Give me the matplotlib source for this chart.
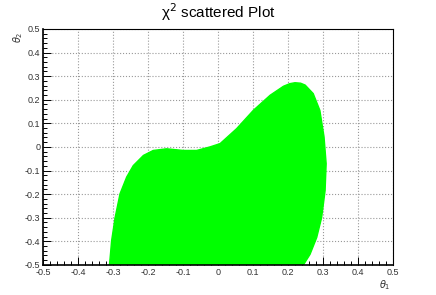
import matplotlib
matplotlib.use("Agg")
import matplotlib.pyplot as plt
from matplotlib.ticker import MultipleLocator

plt.rcParams['font.family'] = ['Liberation Sans', 'DejaVu Sans']

# boundary of the scattered region (theta1, theta2)
theta1_edge = [-0.31, -0.307, -0.304, -0.294, -0.28, -0.261, -0.242, -0.213, -0.185,
               -0.147, -0.099, -0.061, -0.023, 0.006, 0.053, 0.101, 0.149, 0.187,
               0.205, 0.22, 0.236, 0.249, 0.272, 0.291, 0.303, 0.309, 0.306,
               0.296, 0.282, 0.263, 0.244]
theta2_edge = [-0.5, -0.45, -0.398, -0.30, -0.199, -0.128, -0.079, -0.036, -0.015,
               -0.008, -0.015, -0.015, 0.0, 0.014, 0.077, 0.155, 0.219, 0.257,
               0.268, 0.272, 0.270, 0.262, 0.226, 0.155, 0.042, -0.071, -0.185,
               -0.30, -0.384, -0.455, -0.5]

ticks = [-0.5, -0.4, -0.3, -0.2, -0.1, 0, 0.1, 0.2, 0.3, 0.4, 0.5]
tick_labels = ['-0.5', '-0.4', '-0.3', '-0.2', '-0.1', '0', '0.1', '0.2', '0.3', '0.4', '0.5']

fig = plt.figure(figsize=(4.36, 2.95), dpi=100)
ax = fig.add_axes([0.0986, 0.102, 0.8028, 0.8])

ax.fill(theta1_edge, theta2_edge, color='#00ff00', lw=1.0, ec='#00ff00',
        joinstyle='round', zorder=2)

ax.set_xlim(-0.5, 0.5)
ax.set_ylim(-0.5, 0.5)
ax.set_xticks(ticks)
ax.set_xticklabels(tick_labels)
ax.set_yticks(ticks)
ax.set_yticklabels(tick_labels)
ax.xaxis.set_minor_locator(MultipleLocator(0.02))
ax.yaxis.set_minor_locator(MultipleLocator(0.02))
ax.tick_params(which='both', direction='in', labelsize=6.5, labelcolor='#333333', width=0.7)
ax.tick_params(which='major', length=6, pad=2)
ax.tick_params(which='minor', length=3)
ax.grid(True, which='major', color='#999999', linestyle=':', linewidth=0.8, zorder=1)
ax.set_axisbelow(True)
for s in ax.spines.values():
    s.set_linewidth(0.8)
ax.spines['left'].set_linewidth(1.2)
ax.spines['bottom'].set_linewidth(1.2)

fig.text(0.5, 0.96, 'χ$^{2}$ scattered Plot', ha='center', va='center', fontsize=11)
fig.text(0.042, 0.875, r'$\theta_{2}$', rotation=90, ha='center', va='center', fontsize=7, color='#333333')
fig.text(0.882, 0.032, r'$\theta_{1}$', ha='center', va='center', fontsize=7, color='#333333')

fig.savefig('out.png', dpi=100)
